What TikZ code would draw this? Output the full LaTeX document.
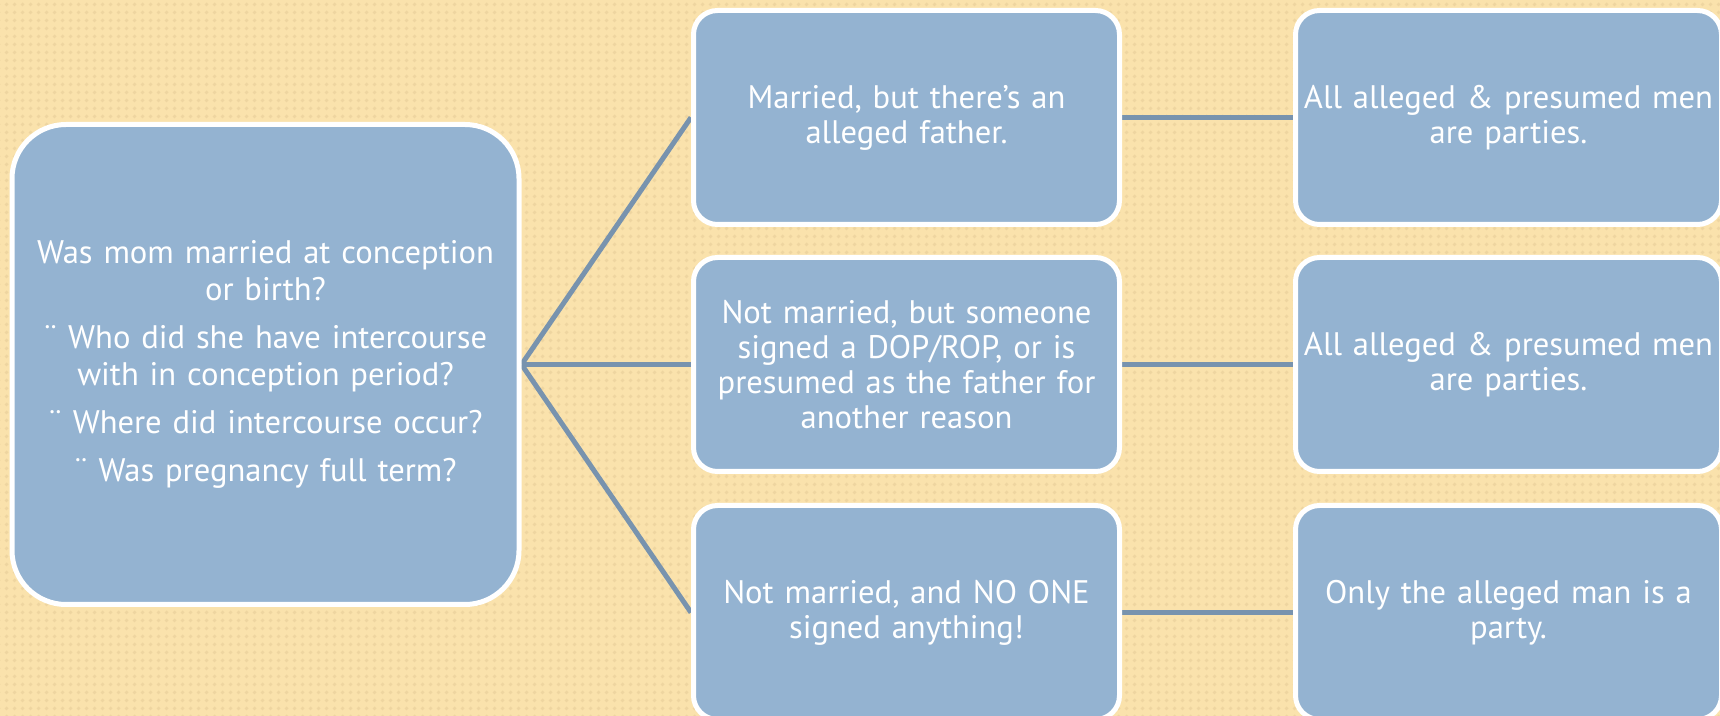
\documentclass[tikz,border=0pt]{standalone}
\usepackage{fontspec}
\setmainfont{PT Sans}
\usepackage{xcolor}
\usepackage{tikz}
\usetikzlibrary{patterns.meta}
\definecolor{boxblue}{HTML}{94B3D1}
\definecolor{linkblue}{HTML}{7893AE}
\definecolor{sand}{HTML}{FAE2AC}
\definecolor{sanddots}{HTML}{EED5A0}
\tikzstyle{big box}=[fill=boxblue, draw=white, line width=2.5pt, shape=rectangle, rounded corners=27pt, minimum width=253.5pt, minimum height=240pt, text width=242pt, inner xsep=2pt, align=center, text=white, font=\fontsize{16.3}{18.5}\selectfont]
\tikzstyle{box}=[fill=boxblue, draw=white, line width=2.5pt, shape=rectangle, rounded corners=12pt, minimum width=213pt, minimum height=107pt, text width=210pt, inner xsep=1.5pt, align=center, text=white, font=\fontsize{16.3}{17.5}\selectfont]
\tikzstyle{link}=[draw=linkblue, line width=2.5pt]
\pgfdeclarelayer{bglayer}
\pgfdeclarelayer{nodelayer}
\pgfdeclarelayer{edgelayer}
\pgfsetlayers{bglayer,edgelayer,nodelayer,main}
\begin{document}
\begin{tikzpicture}[x=0.5pt, y=-0.5pt]
    	\useasboundingbox (0, 0) rectangle (1720, 716);
    	\begin{pgfonlayer}{bglayer}
    		\fill [sand] (0, 0) rectangle (1720, 716);
    		\pattern [pattern={Dots[distance=4pt, radius=1.1pt]}, pattern color=sanddots] (0, 0) rectangle (1720, 716);
    	\end{pgfonlayer}
    	\begin{pgfonlayer}{nodelayer}
    		\node [style=big box] (0) at (265.5, 364.5) {Was mom married at conception\\ or birth?\\[5.5pt] ¨ Who did she have intercourse\\ with in conception period?\\[5.5pt] ¨ Where did intercourse occur?\\[5.5pt] ¨ Was pregnancy full term?};
    		\node [style=box] (1) at (906.5, 117.5) {Married, but there’s an\\ alleged father.};
    		\node [style=box] (2) at (906.5, 364.5) {Not married, but someone\\ signed a DOP/ROP, or is\\ presumed as the father for\\ another reason};
    		\node [style=box] (3) at (906.5, 612.5) {Not married, and NO ONE\\ signed anything!};
    		\node [style=box] (4) at (1508.5, 117.5) {All alleged \& presumed men\\ are parties.};
    		\node [style=box] (5) at (1508.5, 364.5) {All alleged \& presumed men\\ are parties.};
    		\node [style=box] (6) at (1508.5, 612.5) {Only the alleged man is a\\ party.};
    	\end{pgfonlayer}
    	\begin{pgfonlayer}{edgelayer}
    		\draw [style=link] (0.east) to (1.west);
    		\draw [style=link] (0.east) to (2.west);
    		\draw [style=link] (0.east) to (3.west);
    		\draw [style=link] (1.east) to (4.west);
    		\draw [style=link] (2.east) to (5.west);
    		\draw [style=link] (3.east) to (6.west);
    	\end{pgfonlayer}
    \end{tikzpicture}
\end{document}
